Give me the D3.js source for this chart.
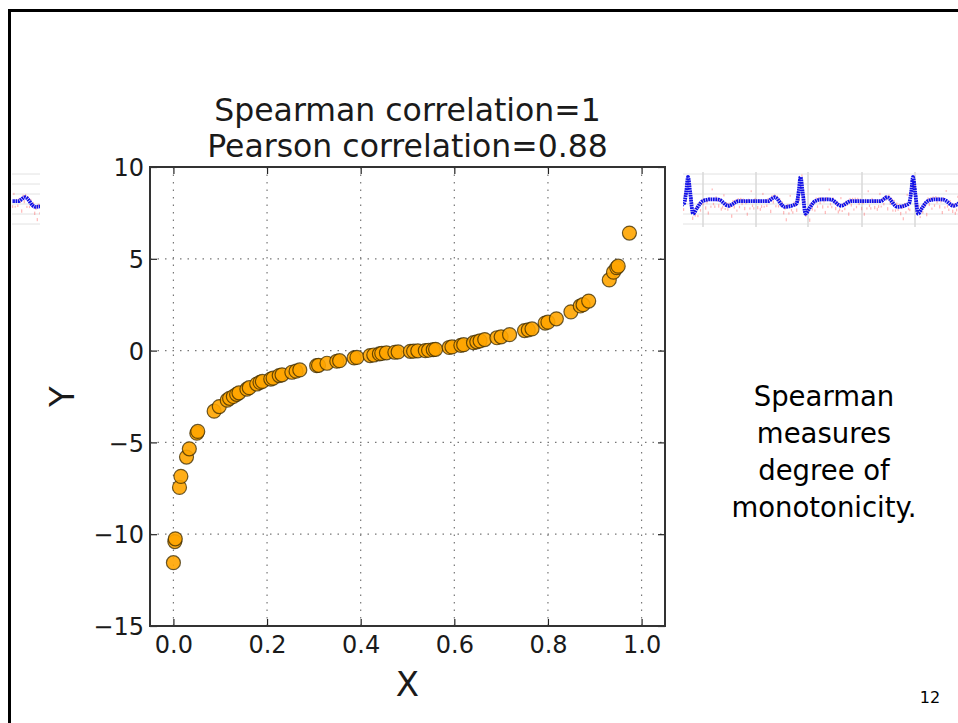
<!DOCTYPE html>
<html>
<head>
<meta charset="utf-8">
<script src="https://cdn.jsdelivr.net/npm/d3@7"></script>
<style>
  body { margin: 0; background: #fff; }
  svg { display: block; }
</style>
</head>
<body>
<div id="slide"></div>
<script>
// scatter values
const xValues = [0.000, 0.003, 0.004, 0.013, 0.016, 0.028, 0.034, 0.050, 0.052, 0.087,
                 0.098, 0.115, 0.120, 0.128, 0.135, 0.140, 0.157, 0.162, 0.178, 0.185,
                 0.190, 0.208, 0.213, 0.226, 0.232, 0.253, 0.262, 0.270, 0.306, 0.310,
                 0.328, 0.349, 0.355, 0.386, 0.392, 0.420, 0.428, 0.440, 0.445, 0.455,
                 0.473, 0.480, 0.506, 0.513, 0.522, 0.538, 0.545, 0.555, 0.560, 0.589,
                 0.595, 0.614, 0.620, 0.641, 0.648, 0.655, 0.665, 0.691, 0.700, 0.718,
                 0.750, 0.758, 0.766, 0.794, 0.800, 0.818, 0.849, 0.869, 0.875, 0.887,
                 0.931, 0.940, 0.947, 0.950, 0.974];
const yValues = [-11.55, -10.40, -10.25, -7.45, -6.85, -5.80, -5.35, -4.50, -4.40, -3.30,
                 -3.05, -2.70, -2.60, -2.50, -2.38, -2.30, -2.10, -2.02, -1.82, -1.73,
                 -1.68, -1.55, -1.50, -1.36, -1.32, -1.18, -1.12, -1.05, -0.82, -0.80,
                 -0.69, -0.58, -0.55, -0.40, -0.37, -0.27, -0.24, -0.18, -0.15, -0.12,
                 -0.09, -0.07, -0.04, -0.03, -0.01, 0.00, 0.02, 0.05, 0.07, 0.17,
                 0.20, 0.29, 0.32, 0.43, 0.48, 0.53, 0.60, 0.70, 0.75, 0.87,
                 1.09, 1.13, 1.18, 1.50, 1.55, 1.73, 2.11, 2.43, 2.50, 2.70,
                 3.85, 4.27, 4.52, 4.60, 6.40];

const xTicks = [0.0, 0.2, 0.4, 0.6, 0.8, 1.0];
const yTicks = [-15, -10, -5, 0, 5, 10];
const titleLines = ["Spearman correlation=1", "Pearson correlation=0.88"];
const noteLines = ["Spearman", "measures", "degree of", "monotonicity."];

// one heartbeat of the little ECG strips (phase inside the beat, level)
const beatPhase = [0.00, 0.02, 0.045, 0.08, 0.13, 0.20, 0.27, 0.36, 0.45, 0.71, 0.77, 0.86, 0.95, 0.965, 0.985, 1.00];
const beatLevel = [1.00, 0.30, -0.60, -0.35, -0.05, 0.03, 0.02, -0.25, -0.05, -0.05, 0.12, -0.30, -0.20, -0.15, 0.40, 1.00];
// scatter of the red raw samples around the blue trace
const noiseOffsets = [0.4, -0.7, 0.9, -0.2, 0.6, -1.0, 0.1, 0.8, -0.5, 0.3, -0.9, 0.7, -0.3, 1.0, -0.6,
                      0.2, -0.8, 0.5, -0.1, 0.9, -0.4, 0.6, -1.0, 0.3, 0.8, -0.7, 0.0, 0.5, -0.5, 0.7];

const W = 958, H = 723;
const svg = d3.select("#slide").append("svg")
    .attr("width", W)
    .attr("height", H);

// slide frame (top and left edges)
svg.append("path")
    .attr("d", `M9.5,${H} V10.5 H${W}`)
    .attr("fill", "none")
    .attr("stroke", "#000")
    .attr("stroke-width", 3);

// ---- ECG thumbnails ----
const stripY = d3.scaleLinear().domain([0, 1]).range([200, 177]);
const levelAt = d3.scaleLinear().domain(beatPhase).range(beatLevel);
const period = 112.5;

function drawStrip(x0, x1, firstPeak, vLines) {
    const id = "clip" + x0;
    svg.append("clipPath").attr("id", id)
        .append("rect").attr("x", x0).attr("y", 168).attr("width", x1 - x0).attr("height", 62);
    const g = svg.append("g").attr("clip-path", `url(#${id})`);

    [174, 184, 194, 204, 214, 224].forEach((y) => {
        g.append("line").attr("x1", x0).attr("x2", x1).attr("y1", y).attr("y2", y)
            .attr("stroke", "#e2e2e2").attr("stroke-width", 1);
    });
    vLines.forEach((x) => {
        g.append("line").attr("x1", x).attr("x2", x).attr("y1", 172).attr("y2", 227)
            .attr("stroke", "#d8d8d8").attr("stroke-width", 1.5);
    });

    const pts = [];
    for (let k = -1; k < 4; k++) {
        beatPhase.forEach((p, i) => {
            if (k > -1 && i === 0) return;
            pts.push([firstPeak + (k + p) * period, beatLevel[i]]);
        });
    }

    // red raw samples
    let n = 0;
    for (let x = x0; x < x1; x += 1.3, n++) {
        const ph = (((x - firstPeak) / period) % 1 + 1) % 1;
        const off = noiseOffsets[n % noiseOffsets.length] * 8 * (1 + 0.6 * noiseOffsets[(n * 7) % noiseOffsets.length]);
        g.append("rect")
            .attr("x", x).attr("y", stripY(levelAt(ph)) + off)
            .attr("width", 1.2).attr("height", 1.6 + Math.abs(noiseOffsets[(n * 3) % noiseOffsets.length]) * 3)
            .attr("fill", "#ff4d4d").attr("opacity", 0.4);
    }

    const line = d3.line()
        .x((d) => d[0])
        .y((d) => stripY(d[1]))
        .curve(d3.curveMonotoneX);
    g.append("path")
        .attr("d", line(pts))
        .attr("fill", "none")
        .attr("stroke", "#1010e8")
        .attr("stroke-width", 3.8)
        .attr("stroke-dasharray", "1.8,0.6");
}

drawStrip(683, W, 688, [703, 756, 808, 862, 915]);
drawStrip(12, 40, 25 - 0.77 * period, []);

// ---- scatter plot ----
const plot = { left: 150, right: 665, top: 167, bottom: 626 };

const xScale = d3.scaleLinear()
    .domain([-0.05, 1.05])
    .range([plot.left, plot.right]);

const yScale = d3.scaleLinear()
    .domain([-15, 10])
    .range([plot.bottom, plot.top]);

// dotted grid
const grid = svg.append("g")
    .attr("stroke", "#777")
    .attr("stroke-width", 1.2)
    .attr("stroke-dasharray", "1.5,6");
xTicks.forEach((t) => {
    grid.append("line")
        .attr("x1", xScale(t)).attr("x2", xScale(t))
        .attr("y1", plot.top).attr("y2", plot.bottom);
});
yTicks.forEach((t) => {
    grid.append("line")
        .attr("x1", plot.left).attr("x2", plot.right)
        .attr("y1", yScale(t)).attr("y2", yScale(t));
});

// points
svg.append("g")
    .selectAll("circle")
    .data(xValues.map((x, i) => ({ x: x, y: yValues[i] })))
    .join("circle")
    .attr("cx", (d) => xScale(d.x))
    .attr("cy", (d) => yScale(d.y))
    .attr("r", 7)
    .attr("fill", "#ffa500")
    .attr("fill-opacity", 0.9)
    .attr("stroke", "#3a2a00")
    .attr("stroke-opacity", 0.75)
    .attr("stroke-width", 1.2);

// axes: ticks point inward, labels outside
const tickLen = 7;
const xAxis = svg.append("g")
    .attr("transform", `translate(0,${plot.bottom})`)
    .call(d3.axisBottom(xScale).tickValues(xTicks).tickFormat(d3.format(".1f"))
        .tickSizeInner(-tickLen).tickSizeOuter(0).tickPadding(8));
const yAxis = svg.append("g")
    .attr("transform", `translate(${plot.left},0)`)
    .call(d3.axisLeft(yScale).tickValues(yTicks).tickFormat(d3.format("d"))
        .tickSizeInner(-tickLen).tickSizeOuter(0).tickPadding(6));
const xTop = svg.append("g")
    .attr("transform", `translate(0,${plot.top})`)
    .call(d3.axisTop(xScale).tickValues(xTicks).tickSizeInner(-tickLen).tickSizeOuter(0).tickFormat(""));
const yRight = svg.append("g")
    .attr("transform", `translate(${plot.right},0)`)
    .call(d3.axisRight(yScale).tickValues(yTicks).tickSizeInner(-tickLen).tickSizeOuter(0).tickFormat(""));

[xAxis, yAxis, xTop, yRight].forEach((g) => {
    g.select(".domain").remove();
    g.selectAll(".tick line").attr("stroke", "#222").attr("stroke-width", 1.2);
    g.selectAll("text")
        .attr("font-family", "DejaVu Sans")
        .attr("font-size", 24)
        .attr("fill", "#1a1a1a");
});
xAxis.selectAll("text").attr("dy", "0.8em");
yAxis.selectAll("text").attr("dy", "0.36em");

// frame of the axes
svg.append("rect")
    .attr("x", plot.left).attr("y", plot.top)
    .attr("width", plot.right - plot.left)
    .attr("height", plot.bottom - plot.top)
    .attr("fill", "none")
    .attr("stroke", "#333")
    .attr("stroke-width", 2);

// title and axis labels
svg.append("g")
    .selectAll("text")
    .data(titleLines)
    .join("text")
    .attr("x", (plot.left + plot.right) / 2)
    .attr("y", (d, i) => 121 + i * 36)
    .attr("text-anchor", "middle")
    .attr("font-family", "DejaVu Sans")
    .attr("font-size", 31.5)
    .attr("fill", "#1a1a1a")
    .text((d) => d);

svg.append("text")
    .attr("x", (plot.left + plot.right) / 2)
    .attr("y", 696)
    .attr("text-anchor", "middle")
    .attr("font-family", "DejaVu Sans")
    .attr("font-size", 34)
    .attr("fill", "#1a1a1a")
    .text("X");

svg.append("text")
    .attr("transform", `translate(74,${(plot.top + plot.bottom) / 2}) rotate(-90)`)
    .attr("text-anchor", "middle")
    .attr("font-family", "DejaVu Sans")
    .attr("font-size", 34)
    .attr("fill", "#1a1a1a")
    .text("Y");

// side note
svg.append("g")
    .selectAll("text")
    .data(noteLines)
    .join("text")
    .attr("x", 824)
    .attr("y", (d, i) => 406 + i * 37)
    .attr("text-anchor", "middle")
    .attr("font-family", "DejaVu Sans")
    .attr("font-size", 27.5)
    .attr("fill", "#000")
    .text((d) => d);

// page number
svg.append("text")
    .attr("x", 930)
    .attr("y", 703)
    .attr("text-anchor", "middle")
    .attr("font-family", "DejaVu Sans")
    .attr("font-size", 16)
    .attr("fill", "#000")
    .text("12");
</script>
</body>
</html>
